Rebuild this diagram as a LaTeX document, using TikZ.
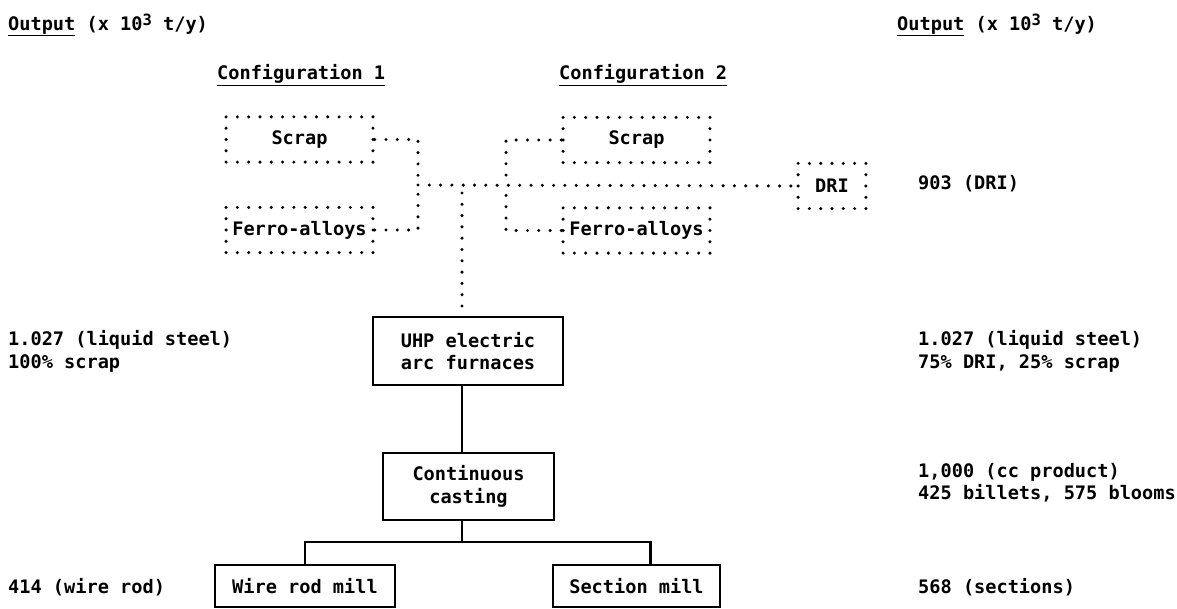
\documentclass[tikz,border=0pt]{standalone}
\usepackage{fontspec}
\setmonofont{DejaVu Sans Mono}
\usetikzlibrary{positioning}

\newcommand{\cubed}{\raisebox{0.45ex}{\fontsize{15.5}{15.5}\selectfont 3}}

\begin{document}
\begin{tikzpicture}[x=1pt,y=-1pt,
		every node/.style={font=\ttfamily\bfseries\fontsize{18.6}{22.5}\selectfont,inner sep=0pt},
		dots/.style={line width=3.4pt,line cap=round,dash pattern=on 0pt off 11.3pt},
		dotbox/.style={draw,dots,minimum width=146.9pt,minimum height=45.2pt},
		box/.style={draw,line width=2.4pt,align=center},
		lbl/.style={anchor=west,align=left}]
		\useasboundingbox (0,0) rectangle (1177,609);
		\node[lbl] (outl) at (8,25) {\underline{Output} (x 10\cubed{} t/y)};
		\node[lbl] (outr) at (897,25) {\underline{Output} (x 10\cubed{} t/y)};
		\node[lbl] (conf1) at (217,75) {\underline{Configuration 1}};
		\node[lbl] (conf2) at (559,75) {\underline{Configuration 2}};
		\node[dotbox] (scrap1) at (299.5,139.5) {Scrap};
		\node[dotbox] (ferro1) at (299.5,230) {Ferro-alloys};
		\node[dotbox] (scrap2) at (636.5,140) {Scrap};
		\node[dotbox] (ferro2) at (636.5,230.5) {Ferro-alloys};
		\node[dotbox,minimum width=67.8pt] (dri) at (832,186) {DRI};
		\node[lbl] (dri-out) at (918,184) {903 (DRI)};
		\node[box,minimum width=190pt,minimum height=68pt] (uhp) at (468,351) {UHP electric\\arc furnaces};
		\node[box,minimum width=171pt,minimum height=67pt] (cc) at (468.5,486.5) {Continuous\\casting};
		\node[box,minimum width=180pt,minimum height=42pt] (wire) at (305,586) {Wire rod mill};
		\node[box,minimum width=167pt,minimum height=42pt] (sect) at (636.5,586) {Section mill};
		\node[lbl] (steel1) at (8,351.5) {1.027 (liquid steel)\\100\% scrap};
		\node[lbl] (steel2) at (918,351.5) {1.027 (liquid steel)\\75\% DRI, 25\% scrap};
		\node[lbl] (cc-out) at (918,482.5) {1,000 (cc product)\\425 billets, 575 blooms};
		\node[lbl] (wire-out) at (8,587) {414 (wire rod)};
		\node[lbl] (sect-out) at (918,587) {568 (sections)};
		\coordinate (j1) at (418,185);
		\coordinate (j2) at (506,185);
		\coordinate (j3) at (462,193);
		\coordinate (br) at (462,542);
		\draw[dots] (scrap1.east) -| (j1);
		\draw[dots] (ferro1.east) -| (j1);
		\draw[dots] (j1) -- (dri.west);
		\draw[dots] (scrap2.west) -| (j2);
		\draw[dots] (ferro2.west) -| (j2);
		\draw[dots] (j3) -- (j3 |- uhp.north);
		\draw[line width=2.4pt] (j3 |- uhp.south) -- (j3 |- cc.north);
		\draw[line width=2.4pt] (br |- cc.south) -- (br);
		\draw[line width=2.4pt] (wire.north) |- (br) -| ([xshift=14pt]sect.north);
	\end{tikzpicture}
\end{document}
